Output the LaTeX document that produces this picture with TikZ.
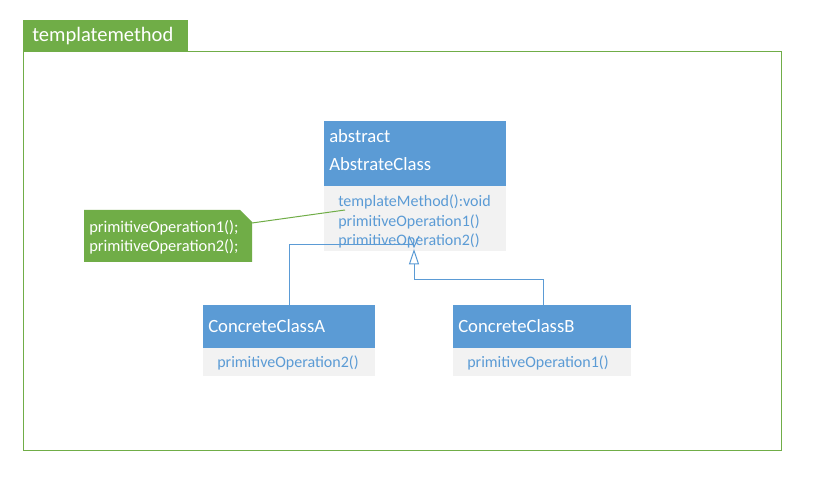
\documentclass[tikz,border=0pt]{standalone}
\usepackage{fontspec}
\setmainfont{Carlito}
\usetikzlibrary{arrows.meta}
\definecolor{umlblue}{HTML}{5B9BD5}
\definecolor{umlgray}{HTML}{F2F2F2}
\definecolor{umlgreen}{HTML}{70AD47}
\tikzset{
  px/.style={x=0.75pt,y=-0.75pt},
  hdr/.style={fill=umlblue,draw=none,anchor=north west,inner sep=0pt},
  bodybox/.style={fill=umlgray,draw=none,anchor=north west,inner sep=0pt},
  hdrtext/.style={anchor=base west,inner sep=0pt,text=white,font=\fontsize{14}{16}\selectfont},
  memtext/.style={anchor=base west,inner sep=0pt,text=umlblue,font=\fontsize{12}{14}\selectfont},
  notetext/.style={anchor=base west,inner sep=0pt,text=white,font=\fontsize{12.3}{14}\selectfont},
  inherit/.style={draw=umlblue,line width=0.75pt,-{Triangle[open,length=11.5pt,width=7.5pt]}},
  assoc/.style={draw=umlblue,line width=0.75pt},
  noteline/.style={draw=umlgreen,line width=0.75pt},
}
\begin{document}
\begin{tikzpicture}[px]
\useasboundingbox (0,0) rectangle (819,481);
\fill[white] (0,0) rectangle (819,481);

% package frame and its tab
\draw[umlgreen,line width=0.75pt] (23,52) rectangle (781,451);
\fill[umlgreen] (23,20) rectangle (188,52);
\node[anchor=base west,inner sep=0pt,text=white,font=\fontsize{15.4}{17}\selectfont] (title) at (32,42) {templatemethod};

% abstract class
\node[hdr,minimum width=182*0.75pt,minimum height=65*0.75pt] (absH) at (324,121) {};
\node[bodybox,minimum width=182*0.75pt,minimum height=65*0.75pt] (absB) at (324,186) {};
\node[hdrtext] (absT1) at (329,142.5) {abstract};
\node[hdrtext] (absT2) at (329,170.5) {AbstrateClass};
\node[memtext] (absM1) at (338,207) {templateMethod():void};
\node[memtext] (absM2) at (338,226.5) {primitiveOperation1()};
\node[memtext] (absM3) at (338,246) {primitiveOperation2()};

% concrete class A
\node[hdr,minimum width=172*0.75pt,minimum height=43*0.75pt] (aH) at (203,305) {};
\node[bodybox,minimum width=172*0.75pt,minimum height=28*0.75pt] (aB) at (203,348) {};
\node[hdrtext] (aT) at (208,333) {ConcreteClassA};
\node[memtext] (aM) at (217,368) {primitiveOperation2()};

% concrete class B
\node[hdr,minimum width=178*0.75pt,minimum height=43*0.75pt] (bH) at (453,305) {};
\node[bodybox,minimum width=178*0.75pt,minimum height=28*0.75pt] (bB) at (453,348) {};
\node[hdrtext] (bT) at (458,333) {ConcreteClassB};
\node[memtext] (bM) at (467,368) {primitiveOperation1()};

% note with folded corner
\coordinate (n1) at (84,210);
\coordinate (n2) at (240,210);
\coordinate (n3) at (252,222);
\coordinate (n4) at (252,262);
\coordinate (n5) at (84,262);
\fill[umlgreen] (n1) -- (n2) -- (n3) -- (n4) -- (n5) -- cycle;
\node[notetext] (nt1) at (89,233) {primitiveOperation1();};
\node[notetext] (nt2) at (89,252) {primitiveOperation2();};
\coordinate (noteEnd) at (252,223);
\coordinate (noteTgt) at (345,210);
\draw[noteline] (noteEnd) -- (noteTgt);

% generalisations
\coordinate (gTip) at (414,249);
\coordinate (bTurn) at (414,280);
\coordinate (aJoin) at (414,245);
\draw[inherit] (bH.north -| 543,0) |- (bTurn) -- (gTip);
\draw[assoc] (aH.north -| 289,0) |- (aJoin);
\draw[assoc] ([xshift=-3.75pt,yshift=6.75pt]aJoin) -- ([yshift=-1.5pt]aJoin) -- ([xshift=3.75pt,yshift=6.75pt]aJoin);
\end{tikzpicture}
\end{document}
